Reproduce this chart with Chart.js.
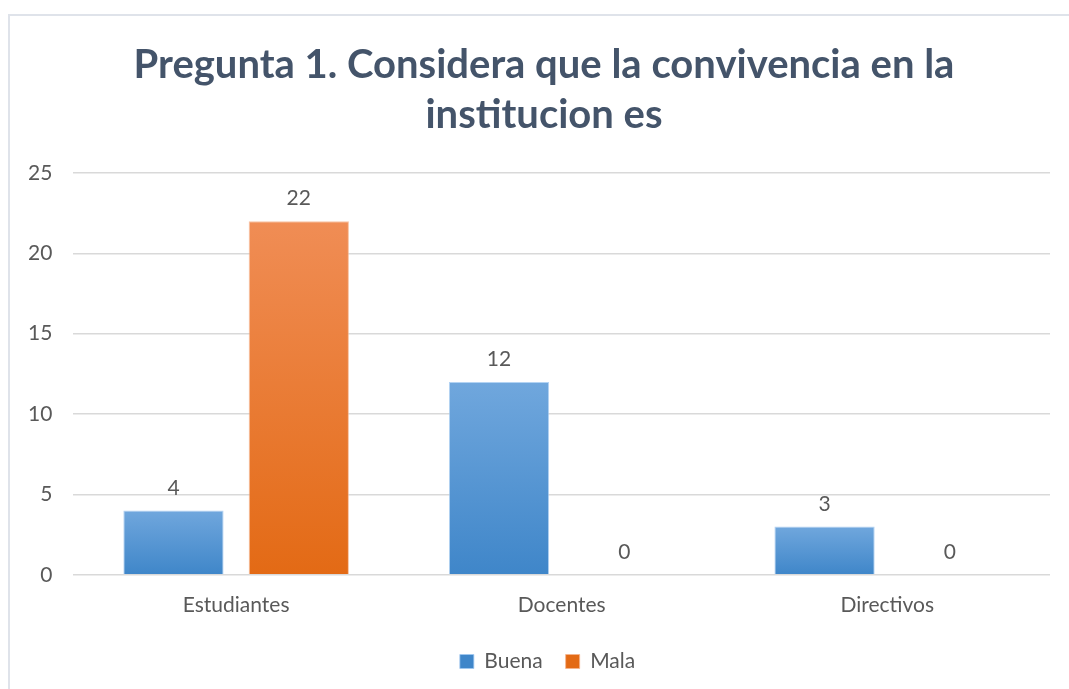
<!DOCTYPE html>
<html>
<head>
<meta charset="utf-8">
<script src="https://cdn.jsdelivr.net/npm/chart.js@4/dist/chart.umd.min.js"></script>
<style>
  html, body { margin: 0; padding: 0; background: #fff; overflow: hidden; }
  #frame { position: absolute; left: 8px; top: 14px; width: 1100px; height: 720px; border: 2px solid #dfe3ea; box-sizing: border-box; }
  #wrap { position: absolute; left: 0; top: 0; width: 1069px; height: 689px; }
</style>
</head>
<body>
<div id="frame"></div>
<div id="wrap"><canvas id="myChart"></canvas></div>
<script>
// datos
var categorias = ["Estudiantes", "Docentes", "Directivos"];
var buena = [4, 12, 3];
var mala = [22, 0, 0];
var tituloLineas = ["Pregunta 1. Considera que la convivencia en la", "institucion es"];

var fontFam = "Lato, 'Open Sans', sans-serif";

function barGradient(top, bottom) {
    return function(context) {
        var chart = context.chart;
        if (!chart.chartArea || context.type !== 'data') return bottom;
        var y = chart.scales.y;
        var v = context.raw;
        var y0 = y.getPixelForValue(0);
        var y1 = y.getPixelForValue(v);
        if (Math.abs(y0 - y1) < 1) return bottom;
        var g = chart.ctx.createLinearGradient(0, y1, 0, y0);
        g.addColorStop(0, top);
        g.addColorStop(1, bottom);
        return g;
    };
}

// etiquetas de valor encima de cada barra
var valueLabels = {
    id: 'valueLabels',
    afterDatasetsDraw: function(chart) {
        var ctx = chart.ctx;
        ctx.save();
        ctx.font = "21px " + fontFam;
        ctx.fillStyle = "#595959";
        ctx.textAlign = "center";
        ctx.textBaseline = "bottom";
        chart.data.datasets.forEach(function(ds, i) {
            var meta = chart.getDatasetMeta(i);
            meta.data.forEach(function(bar, j) {
                ctx.fillText(ds.data[j], bar.x, bar.y - 12);
            });
        });
        ctx.restore();
    }
};

// titulo a mano, centrado en el marco como en Excel
var tituloPlugin = {
    id: 'tituloPlugin',
    afterLayout: function(chart) {
        // la leyenda esta un poco a la derecha en el original
        if (chart.legend) {
            chart.legend.left += 19;
            chart.legend.right += 19;
        }
    },
    afterDraw: function(chart) {
        var ctx = chart.ctx;
        ctx.save();
        ctx.font = "bold 40px " + fontFam;
        ctx.fillStyle = "#44546a";
        ctx.textAlign = "center";
        ctx.textBaseline = "middle";
        tituloLineas.forEach(function(t, i) {
            ctx.fillText(t, 544, 65 + i * 50);
        });
        ctx.restore();
    }
};

var ctx = document.getElementById('myChart');
var chart = new Chart(ctx, {
    type: 'bar',
    data: {
        labels: categorias,
        datasets: [{
            label: "Buena",
            data: buena,
            backgroundColor: barGradient('#70a7dd', '#3f86c9'),
            borderColor: 'rgba(160,200,240,0.8)',
            borderWidth: 1,
            categoryPercentage: 0.77,
            barPercentage: 0.8
        }, {
            label: "Mala",
            data: mala,
            backgroundColor: barGradient('#f08d55', '#e36a15'),
            borderColor: 'rgba(245,180,140,0.8)',
            borderWidth: 1,
            categoryPercentage: 0.77,
            barPercentage: 0.8
        }]
    },
    options: {
        responsive: true,
        maintainAspectRatio: false,
        animation: false,
        layout: { padding: { left: 7, right: 19, top: 173, bottom: 7 } },
        plugins: {
            title: { display: false },
            legend: {
                position: 'bottom',
                labels: {
                    color: '#595959',
                    font: { family: fontFam, size: 21 },
                    boxWidth: 14,
                    boxHeight: 14,
                    padding: 23
                }
            },
            tooltip: { enabled: false }
        },
        scales: {
            x: {
                grid: { display: false },
                border: { display: false },
                ticks: { color: '#595959', font: { family: fontFam, size: 21 }, padding: 10 }
            },
            y: {
                min: 0,
                max: 25,
                ticks: { stepSize: 5, color: '#595959', font: { family: fontFam, size: 21 }, padding: 21 },
                grid: { color: '#d9d9d9', lineWidth: 1.5, drawTicks: false },
                border: { display: false }
            }
        }
    },
    plugins: [valueLabels, tituloPlugin]
});
</script>
</body>
</html>
